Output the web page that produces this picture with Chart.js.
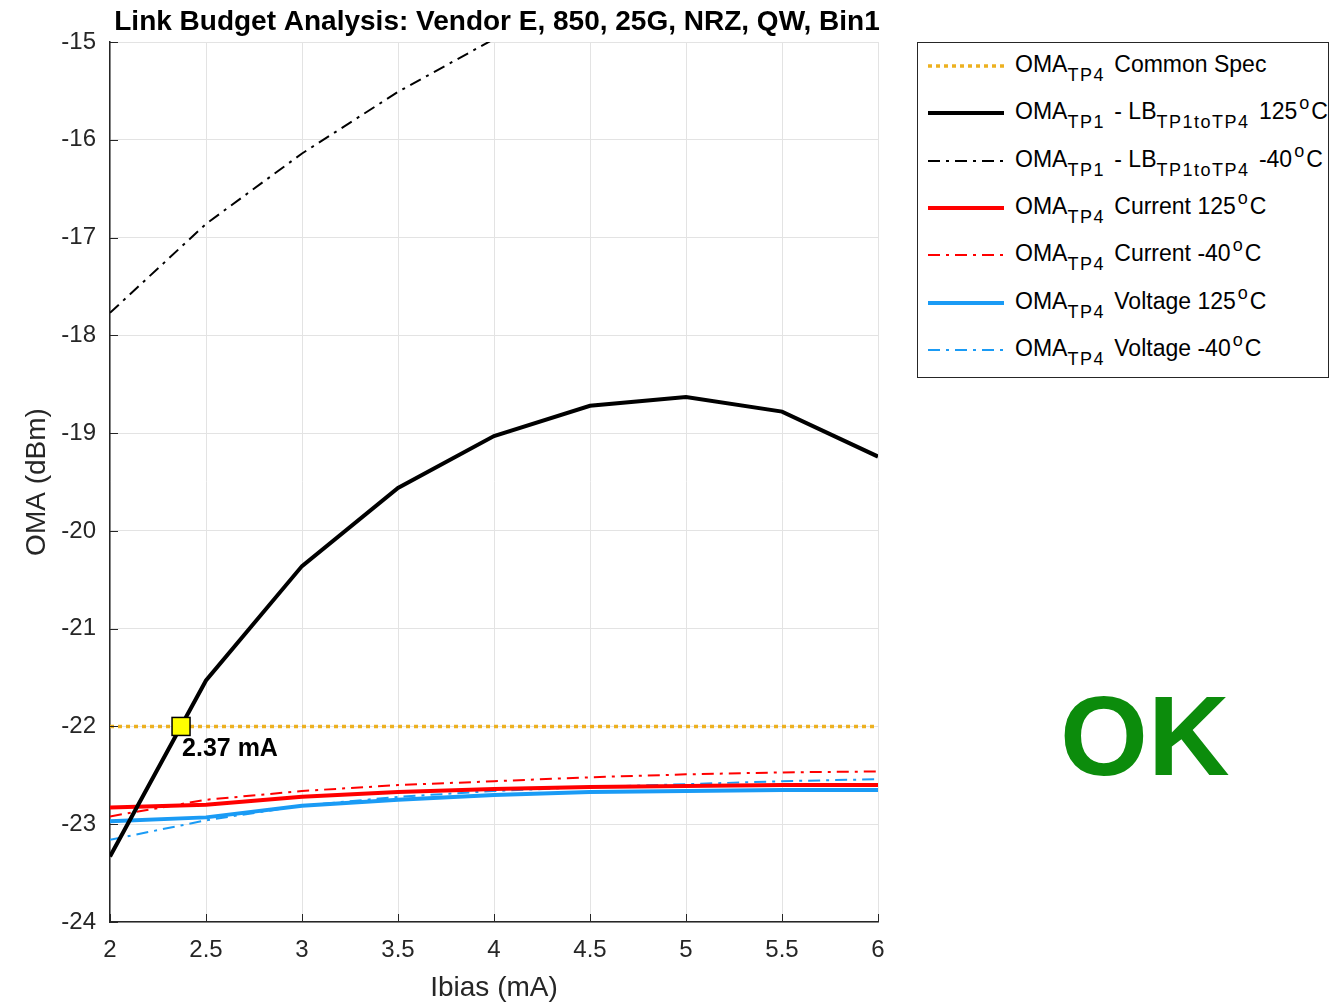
<!DOCTYPE html>
<html>
<head>
<meta charset="utf-8">
<script src="https://cdn.jsdelivr.net/npm/chart.js@4/dist/chart.umd.min.js"></script>
<style>
  body { margin: 0; background: #fff; font-family: "Liberation Sans", Arial, sans-serif; }
  #wrap { position: relative; width: 1332px; height: 1003px; }
  #legend {
    position: absolute; left: 917px; top: 42px; width: 410px; height: 334px;
    border: 1px solid #262626; background: #fff; box-sizing: content-box;
  }
  .item { position: absolute; left: 0; height: 30px; white-space: nowrap; font-size: 23px; color: #000; }
  .item svg { position: absolute; left: 10px; top: 10px; }
  .item span.lbl { position: absolute; left: 97px; top: -2px; line-height: 30px; }
  .item sub { font-size: 18px; vertical-align: -9px; line-height: 0; letter-spacing: 1.5px; margin-right: 3px; }
  .item sup { font-size: 18px; vertical-align: 10px; line-height: 0; margin: 0 2px; }
  #ok { position: absolute; left: 1060px; top: 671px; font: bold 113px "Liberation Sans", Arial, sans-serif; color: #0C8C0C; }
</style>
</head>
<body>
<div id="wrap">
  <canvas id="chart" width="1332" height="1003"></canvas>
  <div id="legend"></div>
  <div id="ok">OK</div>
</div>
<script>
// Данные графика
const ibias = [2, 2.5, 3, 3.5, 4, 4.5, 5, 5.5, 6];
const ibiasCold = [2, 2.5, 3, 3.5, 4];

const specValue = -22;
const lbHot = [-23.33, -21.53, -20.36, -19.56, -19.03, -18.72, -18.63, -18.78, -19.24];
const lbCold = [-17.77, -16.86, -16.14, -15.51, -14.97];
const currentHot = [-22.83, -22.80, -22.72, -22.67, -22.64, -22.62, -22.61, -22.60, -22.60];
const currentCold = [-22.92, -22.75, -22.66, -22.60, -22.56, -22.52, -22.49, -22.47, -22.46];
const voltageHot = [-22.97, -22.93, -22.81, -22.75, -22.70, -22.67, -22.66, -22.65, -22.65];
const voltageCold = [-23.16, -22.96, -22.81, -22.72, -22.66, -22.62, -22.59, -22.56, -22.54];

const crossX = 2.37;
const crossLabel = '2.37 mA';

const legendLabels = [
    'OMA<sub>TP4</sub> Common Spec',
    'OMA<sub>TP1</sub> - LB<sub>TP1toTP4</sub> 125<sup>o</sup>C',
    'OMA<sub>TP1</sub> - LB<sub>TP1toTP4</sub> -40<sup>o</sup>C',
    'OMA<sub>TP4</sub> Current 125<sup>o</sup>C',
    'OMA<sub>TP4</sub> Current -40<sup>o</sup>C',
    'OMA<sub>TP4</sub> Voltage 125<sup>o</sup>C',
    'OMA<sub>TP4</sub> Voltage -40<sup>o</sup>C'
];

const FONT = '"Liberation Sans", Arial, sans-serif';
const ORANGE = '#EDB120';
const RED = '#FF0000';
const BLUE = '#1A9BF5';
const DASHDOT = [12, 6, 3, 6];

function pts(xs, ys) {
    return xs.map((x, i) => ({ x: x, y: ys[i] }));
}

const datasets = [
    { data: pts([ibias[0], ibias[ibias.length - 1]], [specValue, specValue]), borderColor: ORANGE, borderWidth: 3.5, borderDash: [4, 4] },
    { data: pts(ibias, lbHot), borderColor: '#000', borderWidth: 4 },
    { data: pts(ibiasCold, lbCold), borderColor: '#000', borderWidth: 2, borderDash: DASHDOT },
    { data: pts(ibias, currentHot), borderColor: RED, borderWidth: 4 },
    { data: pts(ibias, currentCold), borderColor: RED, borderWidth: 2, borderDash: DASHDOT },
    { data: pts(ibias, voltageHot), borderColor: BLUE, borderWidth: 4 },
    { data: pts(ibias, voltageCold), borderColor: BLUE, borderWidth: 2, borderDash: DASHDOT }
];
datasets.forEach((d, i) => {
    d.label = legendLabels[i].replace(/<[^>]+>/g, '');
    d.pointRadius = 0;
    d.tension = 0;
    d.fill = false;
});

// Заголовок и маркер пересечения
const overlayPlugin = {
    id: 'overlay',
    afterDatasetsDraw(chart) {
        const ctx = chart.ctx;
        const area = chart.chartArea;
        const xs = chart.scales.x, ys = chart.scales.y;
        ctx.save();
        ctx.fillStyle = '#000';
        ctx.font = 'bold 28px ' + FONT;
        ctx.textAlign = 'center';
        ctx.textBaseline = 'alphabetic';
        ctx.fillText('Link Budget Analysis: Vendor E, 850, 25G, NRZ, QW, Bin1', (area.left + area.right) / 2 + 3, 30);

        // Маленькие засечки внутрь, как в MATLAB
        ctx.strokeStyle = '#262626';
        ctx.lineWidth = 1;
        xs.ticks.forEach(t => {
            const x = Math.round(xs.getPixelForValue(t.value)) + 0.5;
            ctx.beginPath();
            ctx.moveTo(x, area.bottom);
            ctx.lineTo(x, area.bottom - 8);
            ctx.stroke();
        });
        ys.ticks.forEach(t => {
            const y = Math.round(ys.getPixelForValue(t.value)) + 0.5;
            ctx.beginPath();
            ctx.moveTo(area.left, y);
            ctx.lineTo(area.left + 8, y);
            ctx.stroke();
        });

        const px = xs.getPixelForValue(crossX);
        const py = ys.getPixelForValue(specValue);
        ctx.fillStyle = '#FFFF00';
        ctx.strokeStyle = '#000';
        ctx.lineWidth = 1.5;
        ctx.fillRect(px - 9, py - 9, 18, 18);
        ctx.strokeRect(px - 9, py - 9, 18, 18);

        ctx.fillStyle = '#000';
        ctx.font = 'bold 25px ' + FONT;
        ctx.textAlign = 'left';
        ctx.fillText(crossLabel, px + 1, py + 30);
        ctx.restore();
    }
};

new Chart(document.getElementById('chart').getContext('2d'), {
    type: 'line',
    data: { datasets: datasets },
    options: {
        responsive: false,
        animation: false,
        layout: { padding: { left: 0, right: 454, top: 42, bottom: 0 } },
        plugins: { legend: { display: false }, tooltip: { enabled: false }, title: { display: false } },
        scales: {
            x: {
                type: 'linear', min: 2, max: 6,
                ticks: {
                    stepSize: 0.5, color: '#262626', font: { family: FONT, size: 24 }, padding: 14, maxRotation: 0,
                    callback: (v) => String(v)
                },
                grid: { color: '#E3E3E3', drawTicks: false },
                border: { color: '#262626', width: 1.5 },
                title: { display: true, text: 'Ibias (mA)', color: '#262626', font: { family: FONT, size: 28 }, padding: { top: 4, bottom: -2 } },
                afterFit(scale) { scale.height = 81; }
            },
            y: {
                min: -24, max: -15,
                ticks: { stepSize: 1, color: '#262626', font: { family: FONT, size: 24 }, padding: 14 },
                grid: { color: '#E3E3E3', drawTicks: false },
                border: { color: '#262626', width: 1.5 },
                title: { display: true, text: 'OMA (dBm)', color: '#262626', font: { family: FONT, size: 28 }, padding: { top: 20, bottom: 0 } },
                afterFit(scale) { scale.width = 110; }
            }
        }
    },
    plugins: [overlayPlugin]
});

// Легенда с индексами
(function buildLegend() {
    const legend = document.getElementById('legend');
    datasets.forEach((d, i) => {
        const item = document.createElement('div');
        item.className = 'item';
        item.style.top = (8 + i * 47.3) + 'px';
        const dash = d.borderDash ? d.borderDash.join(' ') : 'none';
        item.innerHTML =
            '<svg width="78" height="10"><line x1="0" y1="5" x2="76" y2="5" stroke="' + d.borderColor +
            '" stroke-width="' + d.borderWidth + '" stroke-dasharray="' + dash + '"/></svg>' +
            '<span class="lbl">' + legendLabels[i] + '</span>';
        legend.appendChild(item);
    });
})();
</script>
</body>
</html>
